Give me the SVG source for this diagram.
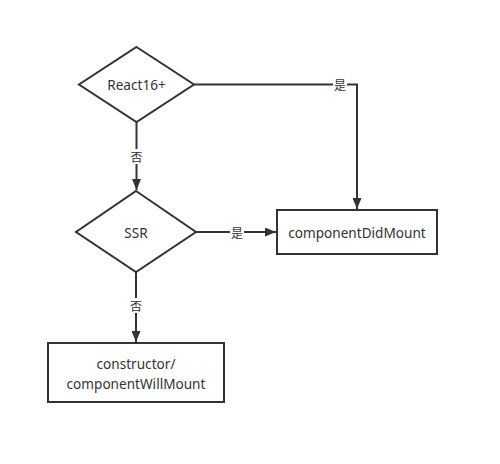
<svg xmlns="http://www.w3.org/2000/svg" width="500" height="464" viewBox="0 0 500 464">
<style>
.shape{fill:#fff;stroke:#333;stroke-width:2}
.edge{fill:none;stroke:#333;stroke-width:2}
.t{font-family:"Noto Sans","Noto Sans CJK SC",sans-serif;font-size:13.6px;fill:#333;text-anchor:middle;dominant-baseline:central}
.lbl{font-family:"Noto Sans CJK SC","Noto Sans",sans-serif;font-size:12px;fill:#333;text-anchor:middle;dominant-baseline:central}
.bg{fill:#fff}
</style>
<defs>
<marker id="arr" viewBox="0 0 11 9" refX="11" refY="4.5" markerWidth="11" markerHeight="9" markerUnits="userSpaceOnUse" orient="auto">
<path d="M0,0 L11,4.5 L0,9 Z" fill="#333"/>
</marker>
</defs>
<rect width="500" height="464" fill="#fff"/>
<g id="connectors">
<path class="edge" d="M194,84.5 H357 V209" marker-end="url(#arr)"/>
<rect class="bg" x="333" y="77" width="14" height="15"/>
<text class="lbl" x="340" y="84.5">是</text>
<path class="edge" d="M136.5,122 V190" marker-end="url(#arr)"/>
<rect class="bg" x="129" y="149" width="15" height="15"/>
<text class="lbl" x="136.5" y="156">否</text>
<path class="edge" d="M196,232 H276" marker-end="url(#arr)"/>
<rect class="bg" x="230" y="225" width="14" height="15"/>
<text class="lbl" x="237" y="232">是</text>
<path class="edge" d="M136,272 V342" marker-end="url(#arr)"/>
<rect class="bg" x="129" y="298" width="15" height="15"/>
<text class="lbl" x="136" y="305">否</text>
</g>
<g id="react16">
<polygon class="shape" points="136.5,47 194,84.5 136.5,122 79,84.5"/>
<text class="t" x="136.5" y="84.5">React16+</text>
</g>
<g id="ssr">
<polygon class="shape" points="136,191 196,232 136,272 76,232"/>
<text class="t" x="136" y="232">SSR</text>
</g>
<g id="didmount">
<rect class="shape" x="277" y="210" width="160" height="44"/>
<text class="t" x="357" y="232">componentDidMount</text>
</g>
<g id="willmount">
<rect class="shape" x="48" y="343" width="176" height="59"/>
<text class="t"><tspan x="136" y="363">constructor/</tspan><tspan x="136" y="382.5">componentWillMount</tspan></text>
</g>
</svg>
